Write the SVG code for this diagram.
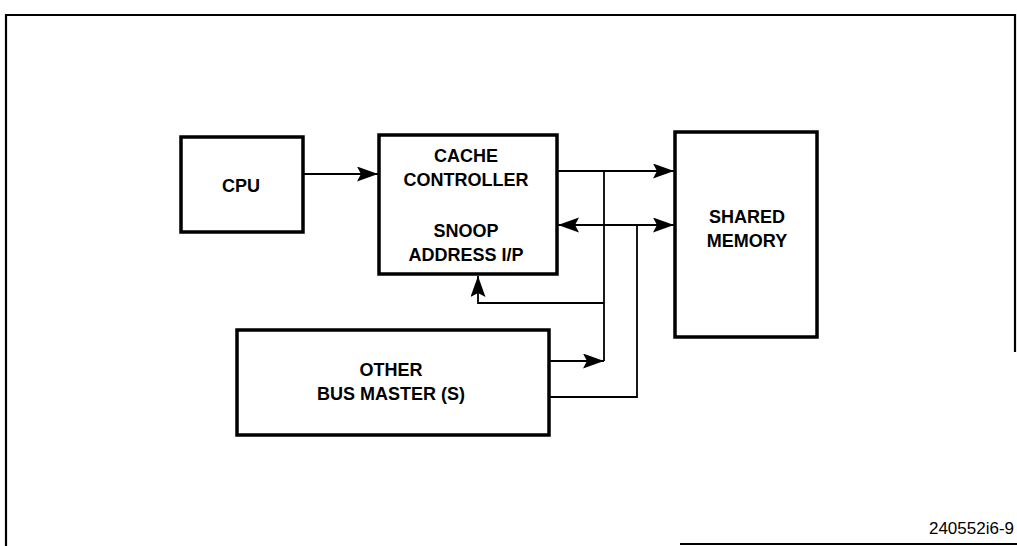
<svg xmlns="http://www.w3.org/2000/svg" width="1017" height="546" viewBox="0 0 1017 546">
<style>
.box{fill:#fff;stroke:#000;stroke-width:3.5}
.lbl{font-family:"Liberation Sans",Arial,sans-serif;font-weight:bold;font-size:18px;text-anchor:middle;fill:#000}
.conn{fill:none;stroke:#000;stroke-width:1.8}
.frame{fill:none;stroke:#000;stroke-width:2.2}
</style>
<defs>
<marker id="ah" markerUnits="userSpaceOnUse" markerWidth="24" markerHeight="16" refX="21" refY="7.5" orient="auto-start-reverse">
<path d="M0,0 L21,7.5 L0,15 L4,7.5 Z" fill="#000"/>
</marker>
</defs>
<g id="frame">
<path class="frame" d="M6,546 L6,15 L1015,15 L1015,352"/>
<line class="frame" x1="680" y1="544" x2="1017" y2="544"/>
</g>
<g id="connectors">
<line class="conn" x1="303" y1="174" x2="378" y2="174" marker-end="url(#ah)"/>
<line class="conn" x1="557" y1="171" x2="674" y2="171" marker-end="url(#ah)"/>
<line class="conn" x1="604" y1="171" x2="604" y2="361"/>
<line class="conn" x1="549" y1="361" x2="604" y2="361" marker-end="url(#ah)"/>
<polyline class="conn" points="604,303 478,303 478,276" marker-end="url(#ah)"/>
<line class="conn" x1="558" y1="225" x2="674" y2="225" marker-start="url(#ah)" marker-end="url(#ah)"/>
<polyline class="conn" points="637,225 637,397 549,397"/>
</g>
<g id="cpu">
<rect class="box" x="181" y="137" width="122" height="95"/>
<text class="lbl" x="241" y="192">CPU</text>
</g>
<g id="cache-controller">
<rect class="box" x="379" y="135" width="178" height="139"/>
<text class="lbl" x="466" y="162">CACHE</text>
<text class="lbl" x="466" y="186">CONTROLLER</text>
<text class="lbl" x="466" y="237">SNOOP</text>
<text class="lbl" x="466" y="261">ADDRESS I/P</text>
</g>
<g id="shared-memory">
<rect class="box" x="675" y="132" width="142" height="205"/>
<text class="lbl" x="747" y="223">SHARED</text>
<text class="lbl" x="747" y="247">MEMORY</text>
</g>
<g id="other-bus-master">
<rect class="box" x="237" y="330" width="312" height="105"/>
<text class="lbl" x="391" y="376">OTHER</text>
<text class="lbl" x="391" y="400">BUS MASTER (S)</text>
</g>
<text x="1014" y="534" font-family="'Liberation Sans',Arial,sans-serif" font-size="17" text-anchor="end">240552i6-9</text>
</svg>
